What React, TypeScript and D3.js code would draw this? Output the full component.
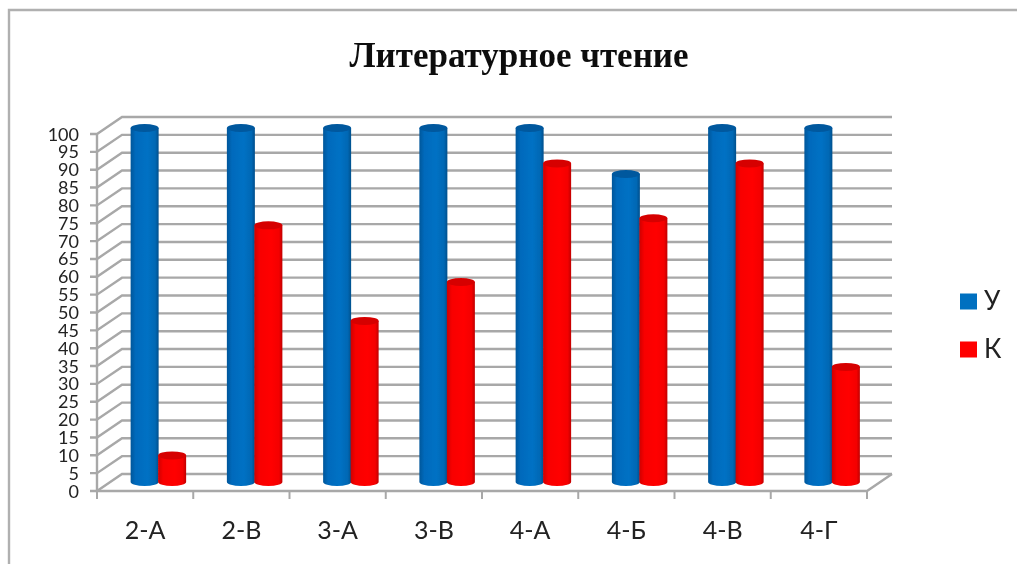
import React from "react";
import * as d3 from "d3";

const categories = ["2-А", "2-В", "3-А", "3-В", "4-А", "4-Б", "4-В", "4-Г"];
const seriesU = [100, 100, 100, 100, 100, 87, 100, 100];
const seriesK = [7.5, 72.5, 45.5, 56.5, 90, 74.5, 90, 32.5];
const ticks = d3.range(0, 101, 5);
const legend = [
  { name: "У", color: "#0070c0" },
  { name: "К", color: "#ff0000" },
];

const W = 1017, H = 564;
const fx0 = 97, fx1 = 867, fy0 = 491, fy1 = 134;
const dx = 25, dy = -17;
const grid = "#a8a8a8";
const font = "Lato, 'Open Sans', sans-serif";

const y = d3.scaleLinear().domain([0, 100]).range([fy0, fy1]);
const barY = d3.scaleLinear().domain([0, 100]).range([482, 128]);
const x = d3.scaleBand<string>().domain(categories).range([fx0, fx1]);
const barW = 28;
const ry = 4;

function Cyl({ cx, v, id, edge }: { cx: number; v: number; id: string; edge: string }) {
  const t = barY(v), b = barY(0), l = cx - barW / 2, r = cx + barW / 2;
  const d = `M${l},${t}L${l},${b}A${barW / 2},${ry} 0 0 0 ${r},${b}L${r},${t}Z`;
  return (
    <g>
      <path d={d} fill={`url(#${id})`} />
      <ellipse cx={cx} cy={t} rx={barW / 2} ry={ry} fill={edge} />
    </g>
  );
}

export default function App() {
  return (
    <svg width={W} height={H} style={{ position: "absolute", left: 0, top: 0, background: "#fff" }}>
      <defs>
        <linearGradient id="gU" x1="0" x2="1" y1="0" y2="0">
          <stop offset="0" stopColor="#00569a" />
          <stop offset="0.18" stopColor="#006abc" />
          <stop offset="0.6" stopColor="#0071c4" />
          <stop offset="0.88" stopColor="#0068b4" />
          <stop offset="1" stopColor="#004f8c" />
        </linearGradient>
        <linearGradient id="gK" x1="0" x2="1" y1="0" y2="0">
          <stop offset="0" stopColor="#d00000" />
          <stop offset="0.18" stopColor="#f80000" />
          <stop offset="0.6" stopColor="#ff0000" />
          <stop offset="0.88" stopColor="#f40000" />
          <stop offset="1" stopColor="#c00000" />
        </linearGradient>
        <filter id="soft" x="-5%" y="-5%" width="110%" height="110%">
          <feGaussianBlur stdDeviation="0.6" />
        </filter>
      </defs>
      <g filter="url(#soft)">
        <path d={`M9,564V10H${W}`} fill="none" stroke="#b0b0b0" strokeWidth={2.4} />
        <text x={519} y={67} textAnchor="middle" fontFamily="'Liberation Serif', serif" fontWeight="bold" fontSize={35} fill="#111">
          Литературное чтение
        </text>

        {ticks.map((t) => (
          <path key={t} d={`M${fx0 - 7},${y(t)}H${fx0}L${fx0 + dx},${y(t) + dy}H${fx1 + dx}`} fill="none" stroke={grid} strokeWidth={2.4} />
        ))}
        <path d={`M${fx0},${fy1}V${fy0}H${fx1}L${fx1 + dx},${fy0 + dy}`} fill="none" stroke={grid} strokeWidth={2.4} />
        {d3.range(0, categories.length + 1).map((i) => {
          const px = fx0 + (i * (fx1 - fx0)) / categories.length;
          return <line key={i} x1={px} x2={px} y1={fy0} y2={fy0 + 8} stroke={grid} strokeWidth={2} />;
        })}

        {ticks.map((t) => (
          <text key={t} x={79} y={y(t) + 6.5} textAnchor="end" fontFamily={font} fontSize={18} fill="#222">
            {t}
          </text>
        ))}

        {categories.map((c, i) => {
          const center = x(c)! + x.bandwidth() / 2;
          return (
            <g key={c}>
              <Cyl cx={center - 0.5} v={seriesU[i]} id="gU" edge="#00589e" />
              <Cyl cx={center + 27} v={seriesK[i]} id="gK" edge="#d60000" />
              <text x={center} y={539} textAnchor="middle" fontFamily={font} fontSize={25} fill="#222">
                {c}
              </text>
            </g>
          );
        })}

        {legend.map((l, i) => (
          <g key={l.name}>
            <rect x={960} y={293.5 + i * 48} width={17} height={16} fill={l.color} />
            <text x={984} y={310 + i * 48} fontFamily={font} fontSize={26} fill="#222">
              {l.name}
            </text>
          </g>
        ))}
      </g>
    </svg>
  );
}
